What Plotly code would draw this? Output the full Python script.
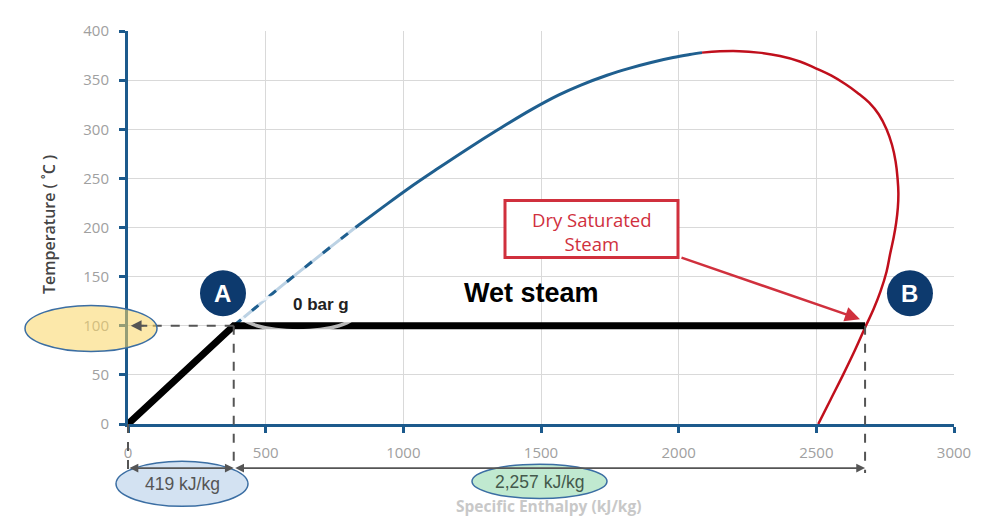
import plotly.graph_objects as go

# Saturated liquid line (blue) - enthalpy kJ/kg vs temperature °C
liq_T = [100, 120, 140, 160, 180, 200, 220, 240, 260, 280, 300, 320, 335, 345, 355, 362, 368, 373, 376, 378]
liq_h = [384, 470, 556, 645, 735, 826, 922, 1020, 1125, 1233, 1346, 1465, 1565, 1645, 1740, 1820, 1900, 1980, 2040, 2085]

# Saturated vapour line (red)
vap_h = [2085, 2150, 2220, 2290, 2368, 2440, 2498, 2555, 2605, 2650, 2692, 2727, 2755, 2775, 2788, 2795,
         2798, 2796, 2790, 2781, 2768, 2755, 2733, 2708, 2680, 2640, 2597, 2552, 2507]
vap_T = [378, 379.3, 379.5, 378, 374.5, 369, 362, 354.5, 346, 337, 327, 315, 300, 284, 267, 250,
         235, 220, 205, 190, 173, 155, 135, 117, 100, 75, 50, 25, 0]

# Heating path at 0 bar g: water heating then evaporation
path_h = [0, 384, 2677]
path_T = [0, 100, 100]

x_ticks = [0, 500, 1000, 1500, 2000, 2500, 3000]
y_ticks = [0, 50, 100, 150, 200, 250, 300, 350, 400]

X_MAX, Y_MAX = 3000, 400

# page pixels of the plot area (the page body adds an 8px offset)
OFF = 8
W, H = 1000 - OFF, 526 - OFF
PL, PR, PT, PB = 128, 954, 23, 424
ML, MR, MT, MB = PL - OFF, W - (PR - OFF), PT - OFF, H - (PB - OFF)

AXIS_BLUE = "#1c5a8c"
LIQ_BLUE = "#1f5f8f"
RED = "#c00f1c"
BOX_RED = "#d0303d"
NAVY = "#0d3a6e"
DASH_GREY = "#555555"
ELL_EDGE = "#3b6ea3"


def PX(p):
    # page pixel -> paper x
    return (p - PL) / (PR - PL)


def PY(p):
    # page pixel -> paper y
    return (PB - p) / (PB - PT)


def dx(h):
    return h / X_MAX


def dy(t):
    return t / Y_MAX


px_per_kj = (PR - PL) / X_MAX

fig = go.Figure()

# washed-out lower part of the liquid line
fig.add_trace(go.Scatter(x=liq_h[:6], y=liq_T[:6], mode="lines", line=dict(color="#bcd2e4", width=3, shape="spline"),
                         hoverinfo="skip"))
fig.add_trace(go.Scatter(x=liq_h[:6], y=liq_T[:6], mode="lines",
                         line=dict(color=LIQ_BLUE, width=3, dash="9px,14px", shape="spline"), hoverinfo="skip"))
fig.add_trace(go.Scatter(x=liq_h[5:], y=liq_T[5:], mode="lines", line=dict(color=LIQ_BLUE, width=3, shape="spline"),
                         hoverinfo="skip"))
fig.add_trace(go.Scatter(x=vap_h, y=vap_T, mode="lines",
                         line=dict(color=RED, width=2.5, shape="spline", smoothing=1.2), hoverinfo="skip"))
fig.add_trace(go.Scatter(x=path_h, y=path_T, mode="lines", line=dict(color="black", width=7),
                         hoverinfo="skip"))

shapes = []
dash_line = dict(color=DASH_GREY, width=2, dash="dash")

# faint leftover arc under "0 bar g"
shapes.append(dict(type="circle", xref="paper", yref="paper", x0=PX(240), x1=PX(356), y0=PY(329), y1=PY(293),
                   line=dict(color="rgba(255,255,255,0.72)", width=3.5), layer="above"))

# dashed line from A to the temperature axis
shapes.append(dict(type="line", xref="x", yref="y", x0=path_h[1], x1=18, y0=path_T[1], y1=path_T[1], line=dash_line))
# vertical dashed drop lines (outside plot area -> paper refs)
for h0, t0 in zip(path_h, path_T):
    shapes.append(dict(type="line", xref="paper", yref="paper", x0=dx(h0), x1=dx(h0), y0=dy(t0), y1=PY(474),
                       line=dash_line, layer="above"))

# ellipses
shapes.append(dict(type="circle", xref="paper", yref="paper", x0=PX(25), x1=PX(157), y0=PY(350), y1=PY(303),
                   fillcolor="rgba(250,214,100,0.55)", line=dict(color=ELL_EDGE, width=1.5), layer="above"))
shapes.append(dict(type="circle", xref="paper", yref="paper", x0=PX(116), x1=PX(248), y0=PY(508), y1=PY(462),
                   fillcolor="#d3e2f2", line=dict(color=ELL_EDGE, width=1.5), layer="above"))
shapes.append(dict(type="circle", xref="paper", yref="paper", x0=PX(472), x1=PX(607), y0=PY(500), y1=PY(465),
                   fillcolor="#c0e9d0", line=dict(color=ELL_EDGE, width=1.5), layer="above"))

# A / B badges
for hc in [345, 2840]:
    shapes.append(dict(type="circle", xref="x", yref="y", xsizemode="pixel", ysizemode="pixel",
                       xanchor=hc, yanchor=133, x0=-23, x1=23, y0=-23, y1=23,
                       fillcolor=NAVY, line=dict(color=NAVY, width=0), layer="above"))

# Dry saturated steam box
shapes.append(dict(type="rect", xref="paper", yref="paper", x0=PX(505), x1=PX(678), y0=PY(254), y1=PY(196),
                   fillcolor="white", line=dict(color=BOX_RED, width=3), layer="above"))

annotations = []
# arrowhead on the dashed line at the temperature axis
annotations.append(dict(xref="x", yref="y", x=10, y=100, ax=18, ay=0, text="", showarrow=True,
                        arrowhead=2, arrowsize=1.2, arrowwidth=1.8, arrowcolor=DASH_GREY))
# enthalpy span arrows
annotations.append(dict(xref="paper", yref="paper", x=dx(path_h[1]), y=PY(469),
                        ax=-(path_h[1] - path_h[0]) * px_per_kj, ay=0, text="", showarrow=True,
                        arrowhead=2, startarrowhead=2, arrowside="end+start", arrowsize=1.1,
                        arrowwidth=1.6, arrowcolor=DASH_GREY))
annotations.append(dict(xref="paper", yref="paper", x=dx(path_h[2]), y=PY(469),
                        ax=-(path_h[2] - path_h[1]) * px_per_kj, ay=0, text="", showarrow=True,
                        arrowhead=2, startarrowhead=2, arrowside="end+start", arrowsize=1.1,
                        arrowwidth=1.6, arrowcolor=DASH_GREY))

# red arrow from box to point B
annotations.append(dict(xref="paper", yref="paper", x=PX(860), y=PY(317), ax=-180, ay=-62, text="",
                        showarrow=True, arrowhead=2, arrowsize=1.2, arrowwidth=2.5, arrowcolor=BOX_RED))

labels = [
    dict(xref="paper", yref="paper", x=PX(182), y=PY(485), text="419 kJ/kg",
         font=dict(family="Arial, Liberation Sans", size=17.5, color="#555555")),
    dict(xref="paper", yref="paper", x=PX(540), y=PY(483), text="2,257 kJ/kg",
         font=dict(family="Arial, Liberation Sans", size=17.5, color="#44594c")),
    dict(xref="x", yref="y", x=345, y=133, text="<b>A</b>",
         font=dict(family="Arial, Liberation Sans", size=24, color="white")),
    dict(xref="x", yref="y", x=2840, y=133, text="<b>B</b>",
         font=dict(family="Arial, Liberation Sans", size=24, color="white")),
    dict(xref="paper", yref="paper", x=PX(531), y=PY(290), text="<b>Wet steam</b>",
         font=dict(family="Arial, Liberation Sans", size=27, color="black")),
    dict(xref="paper", yref="paper", x=PX(321), y=PY(302), text="<b>0 bar g</b>",
         font=dict(family="Arial, Liberation Sans", size=17, color="#222222")),
    dict(xref="paper", yref="paper", x=PX(591.5), y=PY(228), text="Dry Saturated<br>Steam",
         font=dict(family="Open Sans", size=18.5, color=BOX_RED)),
    dict(xref="paper", yref="paper", x=PX(49), y=PY(221), text="Temperature ( ˚C )", textangle=-90,
         font=dict(family="Open Sans", size=16, color="#444444", weight=600)),
    dict(xref="paper", yref="paper", x=PX(548), y=PY(508), text="<b>Specific Enthalpy (kJ/kg)</b>",
         font=dict(family="Open Sans", size=15.5, color="#c8c8c8")),
]
for lab in labels:
    lab.update(showarrow=False, xanchor="center", yanchor="middle")
annotations += labels

fig.update_layout(
    width=W, height=H,
    margin=dict(l=ML, r=MR, t=MT, b=MB),
    plot_bgcolor="white", paper_bgcolor="white",
    showlegend=False,
    shapes=shapes,
    annotations=annotations,
    xaxis=dict(range=[0, X_MAX], tickvals=x_ticks, showgrid=True, gridcolor="#d9d9d9", gridwidth=1,
               showline=True, linecolor=AXIS_BLUE, linewidth=3, ticks="outside", ticklen=6, tickwidth=3,
               tickcolor=AXIS_BLUE, ticklabelstandoff=7, zeroline=False,
               tickfont=dict(family="Open Sans", size=15, color="#a0a0a0")),
    yaxis=dict(range=[0, Y_MAX], tickvals=y_ticks, showgrid=True, gridcolor="#d9d9d9", gridwidth=1,
               showline=True, linecolor=AXIS_BLUE, linewidth=3, ticks="outside", ticklen=6, tickwidth=3,
               tickcolor=AXIS_BLUE, ticklabelstandoff=7, zeroline=False,
               tickfont=dict(family="Open Sans", size=15, color="#a0a0a0")),
)

fig.write_html("out.html")
